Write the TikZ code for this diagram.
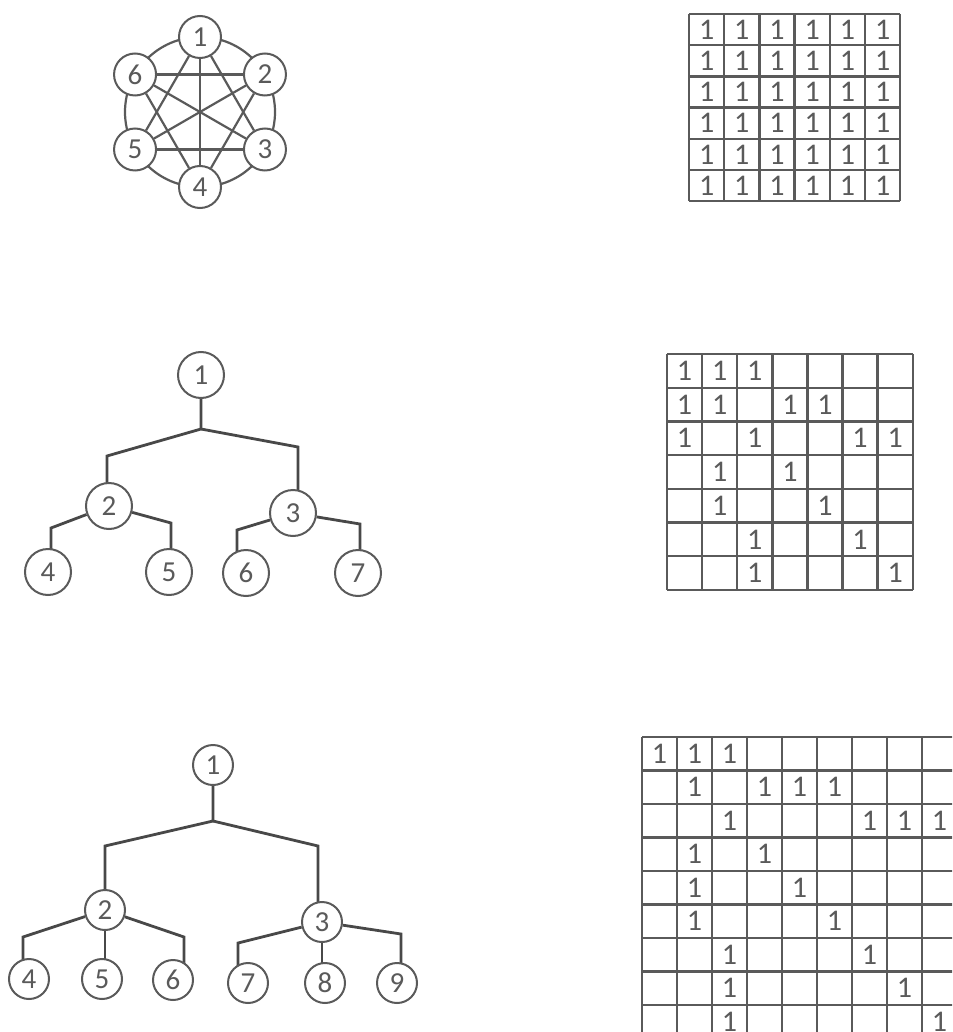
\documentclass[tikz,border=0pt]{standalone}
\usepackage{fontspec}
\setmainfont{Carlito}
\usetikzlibrary{backgrounds}
\usetikzlibrary{calc}
\definecolor{ink}{HTML}{5A5A5A}

\begin{document}
\begin{tikzpicture}[x=1pt, y=-1pt,
    vertex/.style={circle, draw=ink, fill=white, line width=2pt, inner sep=0pt, minimum size=42pt, text=ink, font=\fontsize{29}{29}\selectfont},
    branch/.style={draw=ink!80!black, line width=2.8pt},
    link/.style={draw=ink, line width=2.2pt},
    gridline/.style={draw=ink, line width=2.4pt},
    entry/.style={inner sep=0pt, text=ink, font=\fontsize{30}{30}\selectfont}]

  % Canvas as large as the reference, the last matrix runs off it
  \useasboundingbox (0,0) rectangle (952,1032);
  \clip (0,0) rectangle (952,1032);

  % Complete graph on six vertices
  \def\kx{200}
  \def\ky{112}
  \def\kr{75}
  \foreach \i in {1,...,6} {
    \node[vertex] (k\i) at ({\kx+\kr*cos(90-60*(\i-1))}, {\ky-\kr*sin(90-60*(\i-1))}) {\i};
  }
  \begin{scope}[on background layer]
    \draw[link] (\kx,\ky) circle (\kr);
  \end{scope}
  \foreach \a/\b in {1/3,1/4,1/5,2/4,2/5,2/6,3/5,3/6,4/6}
    \draw[link] (k\a) -- (k\b);

  % Binary tree with seven vertices
  \node[vertex, minimum size=46pt] (t1) at (201,375) {1};
  \node[vertex, minimum size=46pt] (t2) at (109,506) {2};
  \node[vertex, minimum size=46pt] (t3) at (293,513) {3};
  \node[vertex, minimum size=46pt] (t4) at (48,572) {4};
  \node[vertex, minimum size=46pt] (t5) at (169,572) {5};
  \node[vertex, minimum size=46pt] (t6) at (246,573) {6};
  \node[vertex, minimum size=46pt] (t7) at (358,573) {7};
  \coordinate (t1j) at (201,429);
  \coordinate (t1l) at (107,456);
  \coordinate (t1r) at (298,447);
  \coordinate (t2l) at (51,528);
  \coordinate (t2r) at (171,523);
  \coordinate (t3l) at (237,530);
  \coordinate (t3r) at (360,524);

  % Ternary tree with nine vertices
  \node[vertex, minimum size=40pt] (u1) at (213,765) {1};
  \node[vertex, minimum size=40pt] (u2) at (105,910) {2};
  \node[vertex, minimum size=40pt] (u3) at (322,922) {3};
  \node[vertex, minimum size=40pt] (u4) at (29,979) {4};
  \node[vertex, minimum size=40pt] (u5) at (102,979) {5};
  \node[vertex, minimum size=40pt] (u6) at (173,980) {6};
  \node[vertex, minimum size=40pt] (u7) at (248,983) {7};
  \node[vertex, minimum size=40pt] (u8) at (325,983) {8};
  \node[vertex, minimum size=40pt] (u9) at (397,983) {9};
  \coordinate (u1j) at (213,821);
  \coordinate (u1l) at (105,846);
  \coordinate (u1r) at (318,846);
  \coordinate (u2l) at (23,937);
  \coordinate (u2r) at (184,937);
  \coordinate (u3l) at (238,943);
  \coordinate (u3r) at (401,934);

  % Branches run behind the vertices
  \begin{scope}[on background layer]
    \draw[branch] (t1) -- (t1j) -- (t1l) -- (t1l |- t2.center);
    \draw[branch] (t1j) -- (t1r) -- (t1r |- t3.center);
    \draw[branch] (t2) -- (t2l) -- (t2l |- t4.center);
    \draw[branch] (t2) -- (t2r) -- (t2r |- t5.center);
    \draw[branch] (t3) -- (t3l) -- (t3l |- t6.center);
    \draw[branch] (t3) -- (t3r) -- (t3r |- t7.center);

    \draw[branch] (u1) -- (u1j) -- (u1l) -- (u1l |- u2.center);
    \draw[branch] (u1j) -- (u1r) -- (u1r |- u3.center);
    \draw[branch] (u2) -- (u2l) -- (u2l |- u4.center);
    \draw[branch] (u2) -- (u2 |- u5.center);
    \draw[branch] (u2) -- (u2r) -- (u2r |- u6.center);
    \draw[branch] (u3) -- (u3l) -- (u3l |- u7.center);
    \draw[branch] (u3) -- (u3 |- u8.center);
    \draw[branch] (u3) -- (u3r) -- (u3r |- u9.center);
  \end{scope}

  % Matrix of the complete graph
  \def\ax{689}
  \def\ay{14}
  \def\aw{35.2}
  \def\ah{31.2}
  \foreach \c in {0,...,6}
    \draw[gridline] ({\ax+\c*\aw},\ay) -- ({\ax+\c*\aw},{\ay+6*\ah});
  \foreach \r in {0,...,6}
    \draw[gridline] (\ax,{\ay+\r*\ah}) -- ({\ax+6*\aw},{\ay+\r*\ah});
  \foreach \r in {1,...,6}
    \foreach \c in {1,...,6}
      \node[entry] (a\r\c) at ({\ax+(\c-0.5)*\aw},{\ay+(\r-0.5)*\ah}) {1};

  % Matrix of the binary tree
  \def\bx{667}
  \def\by{354}
  \def\bw{35.1}
  \def\bh{33.7}
  \foreach \c in {0,...,7}
    \draw[gridline] ({\bx+\c*\bw},\by) -- ({\bx+\c*\bw},{\by+7*\bh});
  \foreach \r in {0,...,7}
    \draw[gridline] (\bx,{\by+\r*\bh}) -- ({\bx+7*\bw},{\by+\r*\bh});
  \foreach \r/\c in {1/1,1/2,1/3,2/1,2/2,2/4,2/5,3/1,3/3,3/6,3/7,4/2,4/4,5/2,5/5,6/3,6/6,7/3,7/7}
    \node[entry] (b\r\c) at ({\bx+(\c-0.5)*\bw},{\by+(\r-0.5)*\bh}) {1};

  % Matrix of the ternary tree
  \def\cx{642}
  \def\cy{737}
  \def\cw{35}
  \def\ch{33.5}
  \foreach \c in {0,...,9}
    \draw[gridline] ({\cx+\c*\cw},\cy) -- ({\cx+\c*\cw},{\cy+9*\ch});
  \foreach \r in {0,...,9}
    \draw[gridline] (\cx,{\cy+\r*\ch}) -- ({\cx+9*\cw},{\cy+\r*\ch});
  \foreach \r/\c in {1/1,1/2,1/3,2/2,2/4,2/5,2/6,3/3,3/7,3/8,3/9,4/2,4/4,5/2,5/5,6/2,6/6,7/3,7/7,8/3,8/8,9/3,9/9}
    \node[entry] (c\r\c) at ({\cx+(\c-0.5)*\cw},{\cy+(\r-0.5)*\ch}) {1};

\end{tikzpicture}
\end{document}
